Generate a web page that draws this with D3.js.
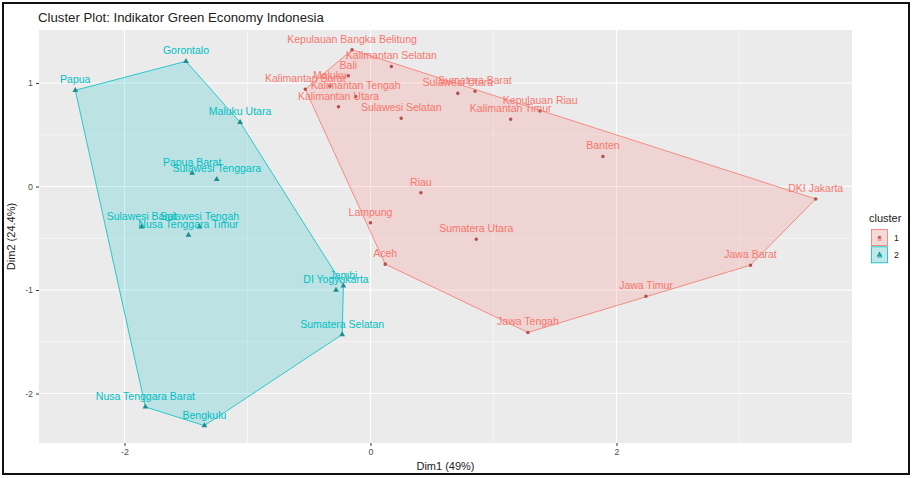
<!DOCTYPE html>
<html>
<head>
<meta charset="utf-8">
<script src="https://cdn.jsdelivr.net/npm/d3@7"></script>
<style>
  body { margin: 0; background: #fff; }
  text { font-family: "Liberation Sans", Arial, sans-serif; }
</style>
</head>
<body>
<div id="chart"></div>
<script>
// data (Dim1, Dim2 of each province)
var provinces = [
  "Kepulauan Bangka Belitung", "Kalimantan Selatan", "Bali", "Maluku", "Kalimantan Barat",
  "Kalimantan Tengah", "Kalimantan Utara", "Sulawesi Selatan", "Sulawesi Utara", "Sumatera Barat",
  "Kepulauan Riau", "Kalimantan Timur", "Banten", "DKI Jakarta", "Riau", "Lampung",
  "Sumatera Utara", "Aceh", "Jawa Barat", "Jawa Timur", "Jawa Tengah",
  "Papua", "Gorontalo", "Maluku Utara", "Papua Barat", "Sulawesi Tenggara", "Sulawesi Barat",
  "Sulawesi Tengah", "Nusa Tenggara Timur", "Jambi", "DI Yogyakarta", "Sumatera Selatan",
  "Nusa Tenggara Barat", "Bengkulu"
];
var dim1 = [
  -0.15, 0.17, -0.18, -0.33, -0.53,
  -0.12, -0.26, 0.25, 0.71, 0.85,
  1.38, 1.14, 1.89, 3.62, 0.41, 0.00,
  0.86, 0.12, 3.09, 2.24, 1.28,
  -2.40, -1.50, -1.06, -1.45, -1.25, -1.86,
  -1.39, -1.48, -0.22, -0.28, -0.23,
  -1.83, -1.35
];
var dim2 = [
  1.32, 1.16, 1.07, 0.97, 0.94,
  0.87, 0.77, 0.66, 0.90, 0.92,
  0.73, 0.65, 0.29, -0.12, -0.06, -0.35,
  -0.51, -0.75, -0.76, -1.06, -1.41,
  0.93, 1.21, 0.62, 0.13, 0.07, -0.39,
  -0.39, -0.47, -0.96, -1.00, -1.43,
  -2.13, -2.31
];
var cluster = [
  1, 1, 1, 1, 1,
  1, 1, 1, 1, 1,
  1, 1, 1, 1, 1, 1,
  1, 1, 1, 1, 1,
  2, 2, 2, 2, 2, 2,
  2, 2, 2, 2, 2,
  2, 2
];
var clusters = [1, 2];
var xTicks = [-2, 0, 2];
var yTicks = [-2, -1, 0, 1];

var w = 912;
var h = 478;
var panel = { left: 39, right: 852, top: 30, bottom: 443 };
var colors = { 1: "#F8766D", 2: "#00BFC4" };
var pointColors = { 1: "#b0524c", 2: "#1f8c8f" };

var data = provinces.map(function (p, i) {
  return { name: p, d1: dim1[i], d2: dim2[i], cl: cluster[i] };
});

var svg = d3.select("#chart").append("svg").attr("width", w).attr("height", h);

svg.append("rect").attr("x", 0).attr("y", 0).attr("width", w).attr("height", h).attr("fill", "#fff");

// scales
var xScale = d3.scaleLinear().domain([-2.695, 3.915]).range([panel.left, panel.right]);
var yScale = d3.scaleLinear().domain([-2.478, 1.512]).range([panel.bottom, panel.top]);

// panel background
svg.append("rect")
  .attr("x", panel.left).attr("y", panel.top)
  .attr("width", panel.right - panel.left).attr("height", panel.bottom - panel.top)
  .attr("fill", "#EBEBEB");

// grid
var xMinor = [-1, 1, 3];
var yMinor = [-1.5, -0.5, 0.5];
var grid = svg.append("g");
grid.selectAll(".xminor").data(xMinor).enter().append("line")
  .attr("x1", function (d) { return xScale(d); }).attr("x2", function (d) { return xScale(d); })
  .attr("y1", panel.top).attr("y2", panel.bottom)
  .attr("stroke", "#fff").attr("stroke-width", 0.5);
grid.selectAll(".yminor").data(yMinor).enter().append("line")
  .attr("y1", function (d) { return yScale(d); }).attr("y2", function (d) { return yScale(d); })
  .attr("x1", panel.left).attr("x2", panel.right)
  .attr("stroke", "#fff").attr("stroke-width", 0.5);
grid.selectAll(".xmajor").data(xTicks).enter().append("line")
  .attr("x1", function (d) { return xScale(d); }).attr("x2", function (d) { return xScale(d); })
  .attr("y1", panel.top).attr("y2", panel.bottom)
  .attr("stroke", "#fff").attr("stroke-width", 1.1);
grid.selectAll(".ymajor").data(yTicks).enter().append("line")
  .attr("y1", function (d) { return yScale(d); }).attr("y2", function (d) { return yScale(d); })
  .attr("x1", panel.left).attr("x2", panel.right)
  .attr("stroke", "#fff").attr("stroke-width", 1.1);

// convex hulls
clusters.forEach(function (c) {
  var pts = data.filter(function (d) { return d.cl === c; })
    .map(function (d) { return [xScale(d.d1), yScale(d.d2)]; });
  var hull = d3.polygonHull(pts);
  svg.append("path")
    .attr("d", "M" + hull.join("L") + "Z")
    .attr("fill", colors[c]).attr("fill-opacity", 0.2)
    .attr("stroke", colors[c]).attr("stroke-width", 0.8);
});

// points
var tri = d3.symbol().type(d3.symbolTriangle).size(14);
svg.selectAll(".pt").data(data).enter().append("path")
  .attr("transform", function (d) { return "translate(" + xScale(d.d1) + "," + yScale(d.d2) + ")"; })
  .attr("d", function (d) { return d.cl === 1 ? d3.symbol().type(d3.symbolCircle).size(10)() : tri(); })
  .attr("fill", function (d) { return pointColors[d.cl]; });

// labels
svg.selectAll(".lbl").data(data).enter().append("text")
  .attr("x", function (d) { return xScale(d.d1); })
  .attr("y", function (d) { return yScale(d.d2) - 7; })
  .attr("text-anchor", "middle")
  .attr("font-size", "10.5px")
  .attr("fill", function (d) { return colors[d.cl]; })
  .text(function (d) { return d.name; });

// axes
var fmt = function (d) { return String(d); };
var xAxis = d3.axisBottom(xScale).tickValues(xTicks).tickFormat(fmt).tickSize(3).tickPadding(3);
var yAxis = d3.axisLeft(yScale).tickValues(yTicks).tickFormat(fmt).tickSize(3).tickPadding(3);
var gx = svg.append("g").attr("transform", "translate(0," + panel.bottom + ")").call(xAxis);
var gy = svg.append("g").attr("transform", "translate(" + panel.left + ",0)").call(yAxis);
[gx, gy].forEach(function (g) {
  g.select(".domain").remove();
  g.selectAll(".tick line").attr("stroke", "#333");
  g.selectAll(".tick text").attr("fill", "#4D4D4D").attr("font-size", "8.8px")
    .attr("font-family", "Liberation Sans, Arial, sans-serif");
});

// titles
svg.append("text").attr("x", 38).attr("y", 22)
  .attr("font-size", "13.2px").attr("fill", "#222")
  .text("Cluster Plot: Indikator Green Economy Indonesia");
svg.append("text").attr("x", (panel.left + panel.right) / 2).attr("y", 470)
  .attr("text-anchor", "middle").attr("font-size", "11px").attr("fill", "#222")
  .text("Dim1 (49%)");
svg.append("text")
  .attr("transform", "translate(15," + ((panel.top + panel.bottom) / 2) + ") rotate(-90)")
  .attr("text-anchor", "middle").attr("font-size", "11px").attr("fill", "#222")
  .text("Dim2 (24.4%)");

// legend
var legend = svg.append("g").attr("transform", "translate(869,0)");
legend.append("text").attr("x", 0).attr("y", 222).attr("font-size", "11px").attr("fill", "#222").text("cluster");
clusters.forEach(function (c, i) {
  var ky = 229 + i * 17.3;
  legend.append("rect").attr("x", 2).attr("y", ky).attr("width", 17).attr("height", 17).attr("fill", "#F2F2F2");
  legend.append("rect").attr("x", 2.5).attr("y", ky + 0.5).attr("width", 16).attr("height", 16)
    .attr("fill", colors[c]).attr("fill-opacity", 0.2).attr("stroke", colors[c]).attr("stroke-width", 0.8);
  legend.append("path")
    .attr("transform", "translate(10.5," + (ky + 8.5) + ")")
    .attr("d", c === 1 ? d3.symbol().type(d3.symbolCircle).size(10)() : tri())
    .attr("fill", pointColors[c]);
  legend.append("text").attr("x", 10.5).attr("y", ky + 12).attr("text-anchor", "middle")
    .attr("font-size", "8px").attr("fill", colors[c]).text("a");
  legend.append("text").attr("x", 25).attr("y", ky + 11.5).attr("font-size", "8.8px").attr("fill", "#222").text(c);
});

// outer frame
svg.append("rect").attr("x", 3).attr("y", 3).attr("width", 906).attr("height", 471)
  .attr("fill", "none").attr("stroke", "#111").attr("stroke-width", 2);
</script>
</body>
</html>
